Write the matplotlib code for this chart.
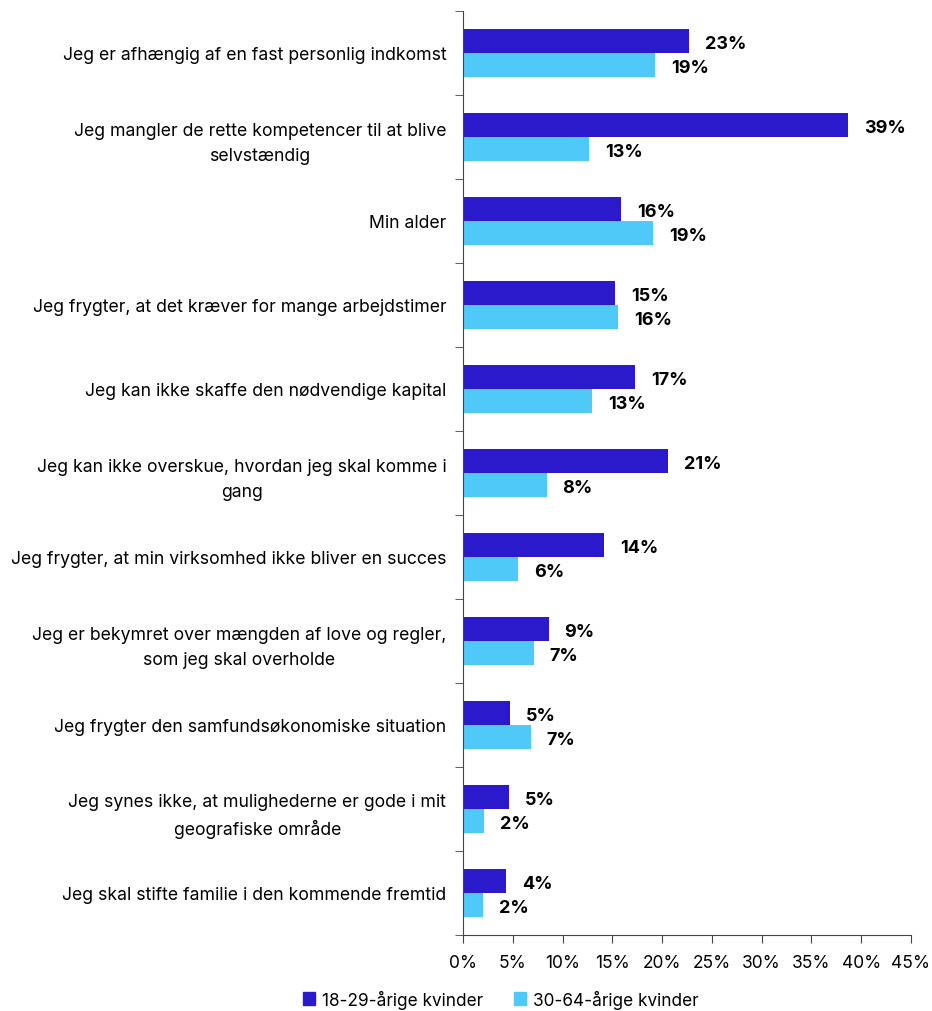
import numpy as np
import matplotlib.pyplot as plt
from matplotlib.patches import Patch

plt.rcParams['font.family'] = ['Inter', 'DejaVu Sans']

categories = [
    "Jeg er afhængig af en fast personlig indkomst",
    "Jeg mangler de rette kompetencer til at blive\nselvstændig",
    "Min alder",
    "Jeg frygter, at det kræver for mange arbejdstimer",
    "Jeg kan ikke skaffe den nødvendige kapital",
    "Jeg kan ikke overskue, hvordan jeg skal komme i\ngang",
    "Jeg frygter, at min virksomhed ikke bliver en succes",
    "Jeg er bekymret over mængden af love og regler,\nsom jeg skal overholde",
    "Jeg frygter den samfundsøkonomiske situation",
    "Jeg synes ikke, at mulighederne er gode i mit\ngeografiske område",
    "Jeg skal stifte familie i den kommende fremtid",
]
young = [22.7, 38.7, 15.9, 15.3, 17.3, 20.6, 14.2, 8.6, 4.7, 4.6, 4.3]
older = [19.3, 12.7, 19.1, 15.6, 13.0, 8.4, 5.5, 7.1, 6.8, 2.1, 2.0]
labels_young = ["23%", "39%", "16%", "15%", "17%", "21%", "14%", "9%", "5%", "5%", "4%"]
labels_older = ["19%", "13%", "19%", "16%", "13%", "8%", "6%", "7%", "7%", "2%", "2%"]
series_names = ["18-29-årige kvinder", "30-64-årige kvinder"]

c_dark = "#2b1acb"
c_light = "#4fc9f8"

fig = plt.figure(figsize=(9.32, 10.12), dpi=100)
ax = fig.add_axes([463 / 932, 1 - 936 / 1012, 448 / 932, 924 / 1012])

n = len(categories)
y = np.arange(n)
h = 0.28
ax.barh(y - h / 2, young, height=h, color=c_dark)
ax.barh(y + h / 2, older, height=h, color=c_light)

for i in range(n):
    ax.text(young[i] + 1.6, y[i] - h / 2 + 0.03, labels_young[i], va='center', ha='left',
            fontsize=13, fontweight='bold', color='black')
    ax.text(older[i] + 1.6, y[i] + h / 2 + 0.03, labels_older[i], va='center', ha='left',
            fontsize=13, fontweight='bold', color='black')

ax.set_ylim(n - 0.5, -0.5)
ax.set_xlim(0, 45)
ax.set_xticks(np.arange(0, 46, 5))
ax.set_xticklabels([f"{v}%" for v in range(0, 46, 5)], fontsize=12.5)

ax.set_yticks(y)
ax.set_yticklabels(categories, fontsize=12.7, multialignment='center', linespacing=1.6)
ax.set_yticks(np.arange(-0.5, n, 1), minor=True)
ax.tick_params(axis='y', which='major', length=0, pad=12)
ax.tick_params(axis='y', which='minor', length=6, color='#444444')
ax.tick_params(axis='x', length=6, color='#444444', pad=8)

for s in ['top', 'right']:
    ax.spines[s].set_visible(False)
ax.spines['left'].set_color('#444444')
ax.spines['bottom'].set_color('#444444')

handles = [Patch(color=c_dark), Patch(color=c_light)]
fig.legend(handles, series_names, loc='center', bbox_to_anchor=(501 / 932, 1 - 1000 / 1012),
           ncol=2, frameon=False, fontsize=12.4, handlelength=0.7, handleheight=0.7,
           handletextpad=0.4, columnspacing=1.8)

fig.savefig('out.png', dpi=100)
